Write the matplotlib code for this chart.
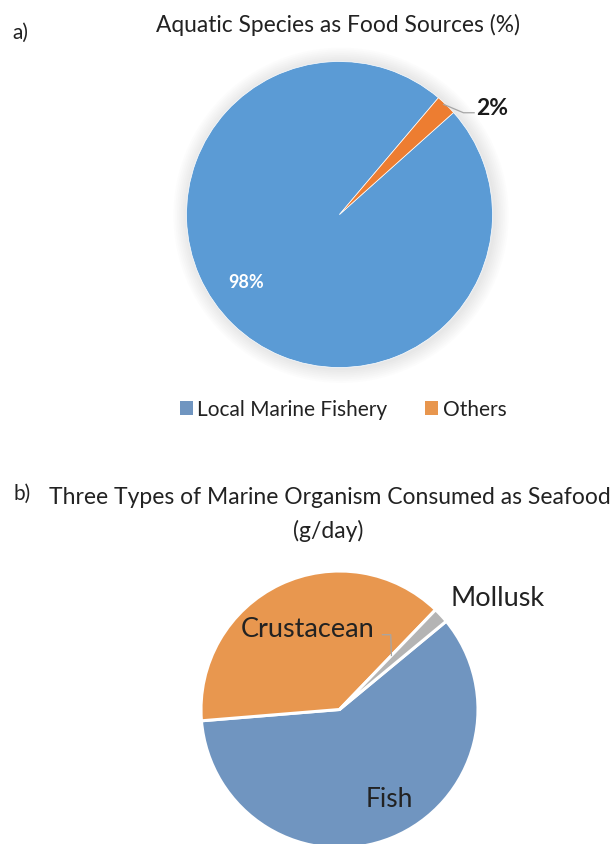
import matplotlib
matplotlib.use('Agg')
import matplotlib.pyplot as plt
from matplotlib.patches import Patch, Circle

plt.rcParams['font.family'] = ['Lato', 'DejaVu Sans']

# ---- data ----
top_labels = ['Local Marine Fishery', 'Others']
top_values = [97.8, 2.2]
top_colors = ['#5B9BD5', '#ED7D31']
legend_colors = ['#7095C0', '#E8964E']

sea_labels = ['Fish', 'Crustacean', 'Mollusk']
sea_values = [59.7, 38.5, 1.8]
sea_colors = ['#7095C0', '#E8974F', '#B4B4B4']

W, H = 613, 845
fig = plt.figure(figsize=(W / 100, H / 100), dpi=100)

def pie_axes(cx, cy, r):
    # pixel centre / radius -> figure fraction axes
    ax = fig.add_axes([(cx - r) / W, (H - cy - r) / H, 2 * r / W, 2 * r / H])
    ax.set_xlim(-1, 1); ax.set_ylim(-1, 1)
    ax.axis('off')
    return ax

# ---------------- a) ----------------
ax1 = pie_axes(339.5, 215.5, 153)
for k in range(8):   # soft glow around the pie
    ax1.add_patch(Circle((0.01, -0.005), 1.0 + 0.012 * (k + 1), color='#808080',
                         alpha=0.02, lw=0, clip_on=False, zorder=0))
wedges1, _ = ax1.pie(top_values, colors=top_colors, startangle=41.8, counterclock=False,
                     radius=1, wedgeprops=dict(linewidth=0.5, edgecolor='white'))
for w in wedges1:
    w.set_zorder(2)
ax1.set_xlim(-1, 1); ax1.set_ylim(-1, 1)

ax1.text(-0.61, -0.435, '%.0f%%' % top_values[0], color='white', fontsize=13,
         fontweight='bold', ha='center', va='center')
ax1.text(1.0, 0.70, '%.0f%%' % top_values[1], color='#1a1a1a', fontsize=16.5,
         fontweight='bold', ha='center', va='center')
ax1.plot([0.68, 0.81, 0.88], [0.72, 0.665, 0.665], color='#a6a6a6', lw=0.9, clip_on=False)

fig.text(12 / W, 1 - 33 / H, 'a)', fontsize=15, color='#222222', ha='left', va='center')
fig.text(338 / W, 1 - 25 / H, 'Aquatic Species as Food Sources (%)', fontsize=16.4,
         color='#222222', ha='center', va='center')

handles = [Patch(facecolor=c, edgecolor='none') for c in legend_colors]
fig.legend(handles, top_labels, loc='center', bbox_to_anchor=(343 / W, 1 - 410 / H),
           ncol=2, frameon=False, fontsize=15, handlelength=0.65, handleheight=0.65,
           handletextpad=0.2, columnspacing=1.8, labelcolor='#222222')

# ---------------- b) ----------------
fig.text(13 / W, 1 - 494 / H, 'b)', fontsize=15, color='#222222', ha='left', va='center')
fig.text(330 / W, 1 - 498 / H, 'Three Types of Marine Organism Consumed as Seafood',
         fontsize=16.5, color='#222222', ha='center', va='center')
fig.text(328 / W, 1 - 531 / H, '(g/day)', fontsize=16.5, color='#222222', ha='center', va='center')

ax2 = pie_axes(339.5, 710.5, 138.5)
ax2.pie(sea_values, colors=sea_colors, startangle=39.6, counterclock=False, radius=1,
        wedgeprops=dict(linewidth=2.2, edgecolor='white'))
ax2.set_xlim(-1, 1); ax2.set_ylim(-1, 1)

ax2.text(0.36, -0.64, sea_labels[0], fontsize=19, color='#222222', ha='center', va='center')
ax2.text(-0.23, 0.585, sea_labels[1], fontsize=19.5, color='#222222', ha='center', va='center')
ax2.text(1.14, 0.81, sea_labels[2], fontsize=19.5, color='#222222', ha='center', va='center')
ax2.plot([0.31, 0.37, 0.375], [0.54, 0.54, 0.39], color='#a6a6a6', lw=0.9)

fig.savefig('out.png', dpi=100)
